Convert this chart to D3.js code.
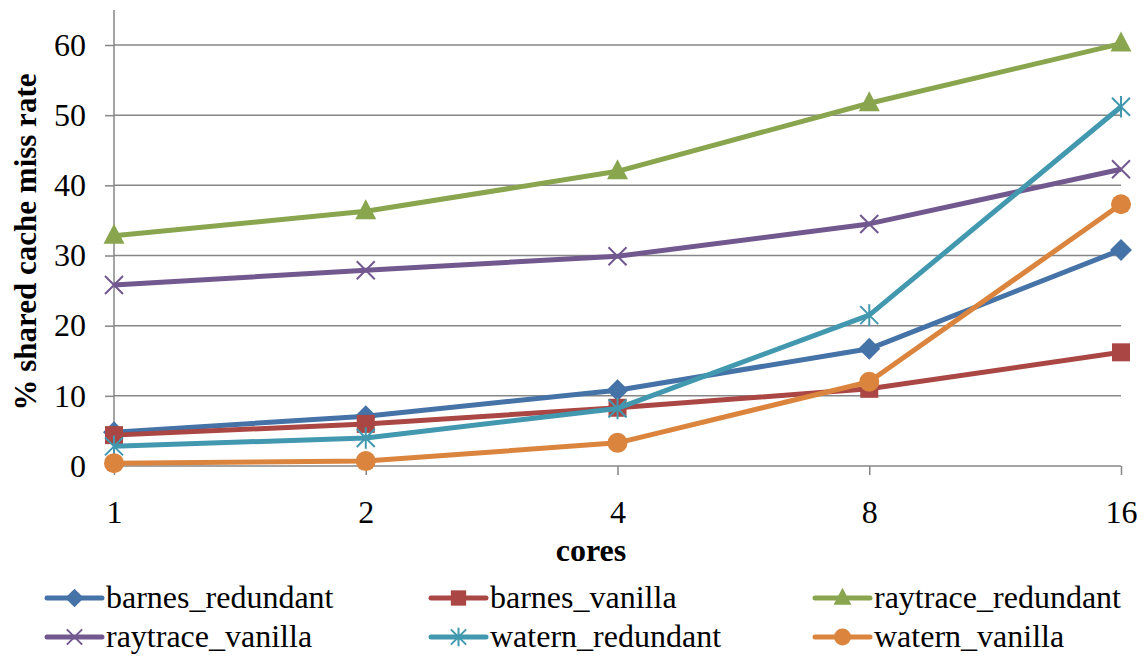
<!DOCTYPE html>
<html><head><meta charset="utf-8">
<script src="https://cdn.jsdelivr.net/npm/d3@7"></script>
<style>body{margin:0;background:#fff}svg{display:block}</style>
</head><body>
<script>
const categories = ["1","2","4","8","16"];
const seriesNames = ["barnes_redundant","barnes_vanilla","raytrace_redundant","raytrace_vanilla","watern_redundant","watern_vanilla"];
const barnes_redundant = [4.8, 7.1, 10.8, 16.7, 30.8];
const barnes_vanilla = [4.4, 6.0, 8.3, 11.0, 16.2];
const raytrace_redundant = [32.8, 36.3, 42.0, 51.7, 60.2];
const raytrace_vanilla = [25.8, 27.9, 29.9, 34.5, 42.3];
const watern_redundant = [2.8, 4.0, 8.2, 21.5, 51.2];
const watern_vanilla = [0.4, 0.7, 3.3, 12.0, 37.3];
const yTicks = [0,10,20,30,40,50,60];
const colors = ["#4572A7","#AA4643","#89A54E","#71588F","#4198AF","#DB843D"];
const markers = ["diamond","square","triangle","x","star","circle"];
const values = [barnes_redundant, barnes_vanilla, raytrace_redundant, raytrace_vanilla, watern_redundant, watern_vanilla];

const W=1146,H=659;
const FF='"Liberation Serif"';
const svg=d3.select("body").append("svg").attr("width",W).attr("height",H);
const x=d3.scalePoint().domain(categories).range([114,1121]);
const y=d3.scaleLinear().domain([0,60]).range([466,45]);
const grid="#868686";

svg.append("g").selectAll("line").data(yTicks.filter(d=>d>0)).join("line")
 .attr("x1",114).attr("x2",1121).attr("y1",d=>y(d)).attr("y2",d=>y(d))
 .attr("stroke",grid).attr("stroke-width",1.5);

const ya=svg.append("g").attr("transform","translate(114,0)").call(d3.axisLeft(y).tickValues(yTicks).tickSize(9).tickPadding(19));
ya.attr("font-family",null).attr("font-size",null);
ya.select(".domain").attr("stroke",grid).attr("stroke-width",1.5).attr("d","M0,10V466");
ya.selectAll(".tick line").attr("stroke",grid).attr("stroke-width",1.5);
ya.selectAll("text").style("font-family",FF).style("font-size","32px").attr("fill","#000");

const xa=svg.append("g").attr("transform","translate(0,466)").call(d3.axisBottom(x).tickSize(9).tickPadding(25));
xa.attr("font-family",null).attr("font-size",null);
xa.select(".domain").attr("stroke",grid).attr("stroke-width",1.5).attr("d","M114,0H1121");
xa.selectAll(".tick line").attr("stroke",grid).attr("stroke-width",1.5);
xa.selectAll("text").style("font-family",FF).style("font-size","32px").attr("fill","#000");

svg.append("text").attr("x",591).attr("y",561).attr("text-anchor","middle")
 .style("font-family",FF).style("font-size","32px").style("font-weight","bold").text("cores");
svg.append("text").attr("transform","translate(36,242) rotate(-90)").attr("text-anchor","middle")
 .style("font-family",FF).style("font-size","31px").style("font-weight","bold").text("% shared cache miss rate");

function drawMarker(g,type,color,cx,cy,scale){
  const s=scale||1;
  if(type==="diamond"){
    g.append("path").attr("d",`M${cx},${cy-11*s}L${cx+11*s},${cy}L${cx},${cy+11*s}L${cx-11*s},${cy}Z`).attr("fill",color);
  } else if(type==="square"){
    g.append("rect").attr("x",cx-9*s).attr("y",cy-9*s).attr("width",18*s).attr("height",18*s).attr("fill",color);
  } else if(type==="triangle"){
    g.append("path").attr("d",`M${cx},${cy-12*s}L${cx+10.5*s},${cy+8*s}L${cx-10.5*s},${cy+8*s}Z`).attr("fill",color);
  } else if(type==="circle"){
    g.append("circle").attr("cx",cx).attr("cy",cy).attr("r",10*s).attr("fill",color);
  } else if(type==="x"){
    const r=9*s;
    g.append("path").attr("d",`M${cx-r},${cy-r}L${cx+r},${cy+r}M${cx-r},${cy+r}L${cx+r},${cy-r}`).attr("stroke",color).attr("stroke-width",2).attr("fill","none");
  } else if(type==="star"){
    const r=9*s;
    g.append("path").attr("d",`M${cx-r},${cy-r}L${cx+r},${cy+r}M${cx-r},${cy+r}L${cx+r},${cy-r}M${cx},${cy-r*1.2}L${cx},${cy+r*1.2}`).attr("stroke",color).attr("stroke-width",2).attr("fill","none");
  }
}

const line=d3.line().x((d,i)=>x(categories[i])).y(d=>y(d));
const plot=svg.append("g");
values.forEach((vals,si)=>{
  const g=plot.append("g");
  g.append("path").datum(vals).attr("d",line).attr("fill","none").attr("stroke",colors[si]).attr("stroke-width",5).attr("stroke-linejoin","round");
  vals.forEach((v,i)=>drawMarker(g,markers[si],colors[si],x(categories[i]),y(v)));
});

const legX=[47,431,815], legY=[598,637];
seriesNames.forEach((n,i)=>{
  const lx=legX[i%3], ly=legY[Math.floor(i/3)];
  const g=svg.append("g");
  g.append("line").attr("x1",lx).attr("x2",lx+55).attr("y1",ly).attr("y2",ly).attr("stroke",colors[i]).attr("stroke-width",5).attr("stroke-linecap","round");
  drawMarker(g,markers[i],colors[i],lx+27.5,ly,0.85);
  g.append("text").attr("x",lx+59).attr("y",ly+10).style("font-family",FF).style("font-size","32px").attr("fill","#000").text(n);
});
</script>
</body></html>
